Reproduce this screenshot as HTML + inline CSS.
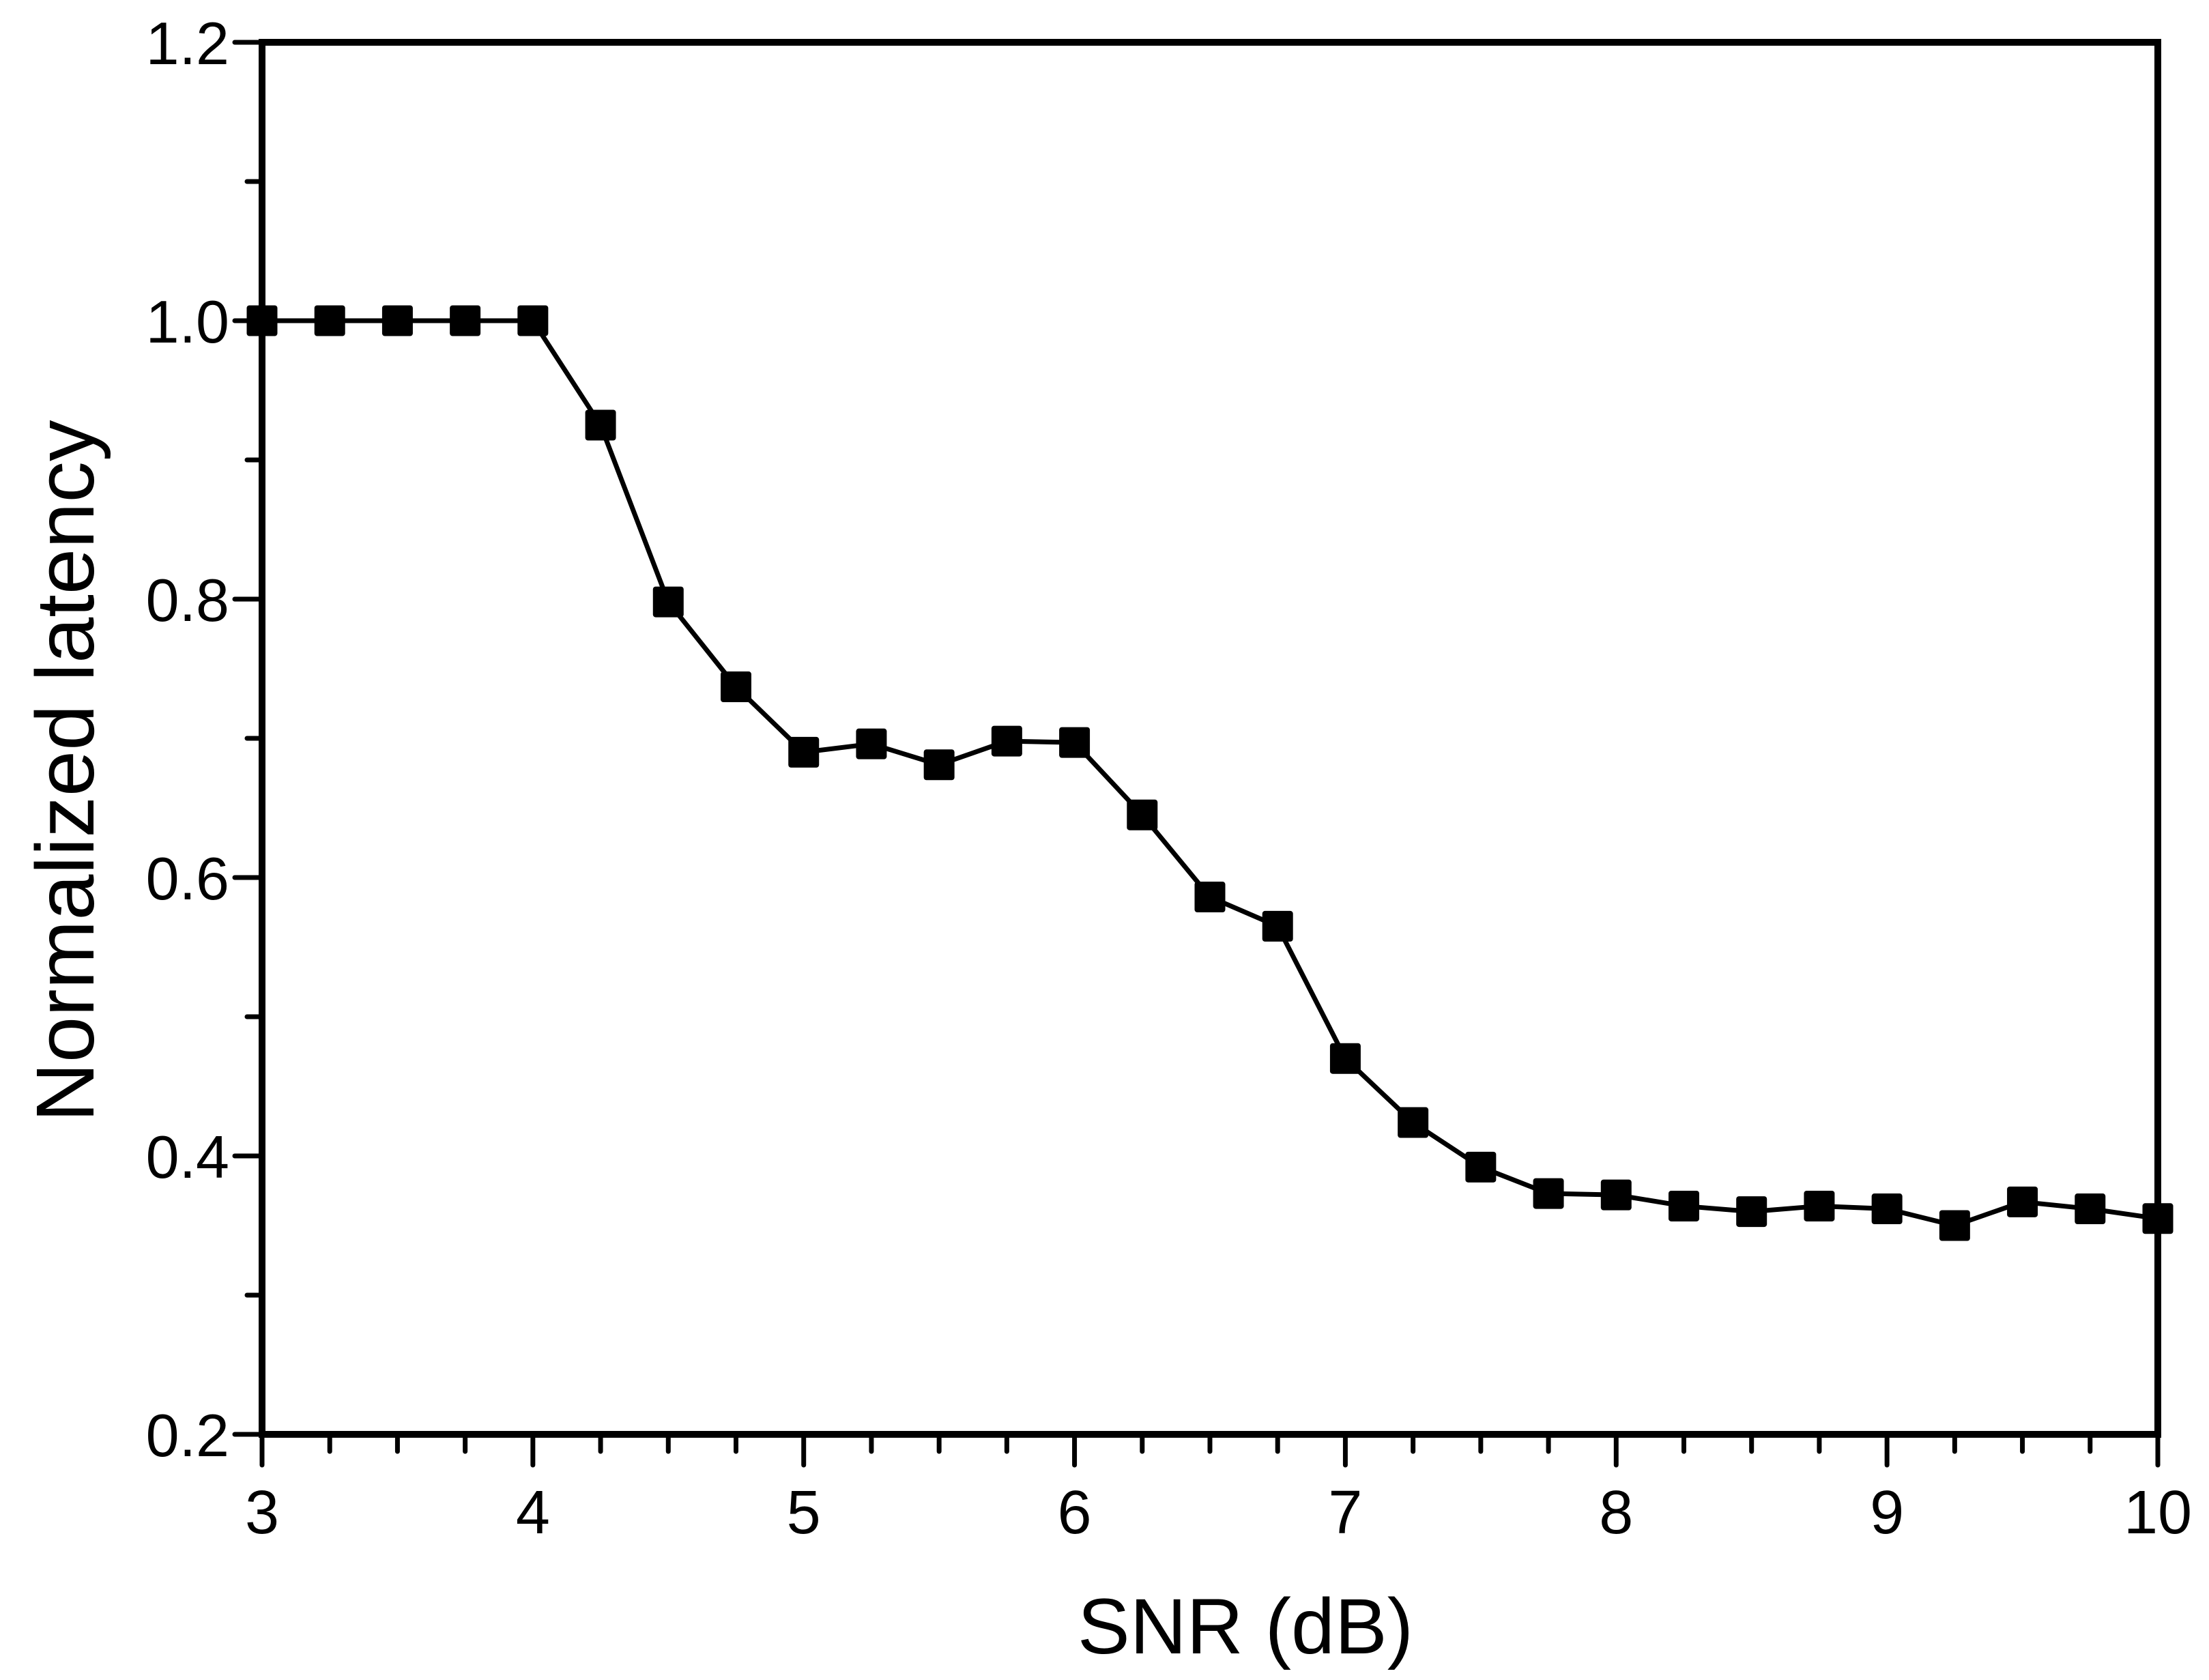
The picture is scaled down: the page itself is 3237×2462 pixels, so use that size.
<!DOCTYPE html>
<html><head><meta charset="utf-8"><style>
html,body{margin:0;padding:0;background:#fff;}
svg{display:block;}
text{font-family:"Liberation Sans",Arial,sans-serif;fill:#000;}
</style></head><body>
<svg id="chart" width="3237" height="2462" viewBox="0 0 3237 2462" xmlns="http://www.w3.org/2000/svg">
<g id="axes"></g>
<g id="series"></g>
<text x="1825" y="2423" font-size="115" text-anchor="middle">SNR (dB)</text>
<text transform="translate(137,1130) rotate(-90)" font-size="121" text-anchor="middle">Normalized latency</text>
</svg>
<script>
const snr = [3,3.25,3.5,3.75,4,4.25,4.5,4.75,5,5.25,5.5,5.75,6,6.25,6.5,6.75,7,7.25,7.5,7.75,8,8.25,8.5,8.75,9,9.25,9.5,9.75,10];
const latency = [1,1,1,1,1,0.925,0.798,0.737,0.690,0.696,0.681,0.698,0.697,0.645,0.586,0.565,0.470,0.424,0.392,0.373,0.372,0.364,0.360,0.364,0.362,0.350,0.367,0.362,0.355];
const xTickLabels = ["3","4","5","6","7","8","9","10"];
const yTickLabels = ["0.2","0.4","0.6","0.8","1.0","1.2"];

const NS="http://www.w3.org/2000/svg";
const L=384,R=3162,T=62,B=2102;
const xMin=3,xMax=10,yMin=0.2,yMax=1.2;
const xs=v=>L+(v-xMin)/(xMax-xMin)*(R-L);
const ys=v=>B-(v-yMin)/(yMax-yMin)*(B-T);
const axes=document.getElementById('axes');
const series=document.getElementById('series');
function mk(tag,attrs,parent){const e=document.createElementNS(NS,tag);for(const k in attrs)e.setAttribute(k,attrs[k]);parent.appendChild(e);return e;}

const frame=mk('rect',{x:L,y:T,width:R-L,height:B-T,fill:'none',stroke:'#000','stroke-width':10},axes);



// x ticks
for(let i=0;i<=28;i++){
  const v=xMin+i*0.25; if(v>xMax) break;
  const major=(i%4===0);
  const t=mk('line',{x1:xs(v),x2:xs(v),y1:B,y2:B+(major?45:25),stroke:'#000','stroke-width':7,'stroke-linecap':'round'},axes);
  
  
}
xTickLabels.forEach(s=>{
  const v=parseFloat(s);
  const t=mk('text',{x:xs(v),y:2247,'font-size':90,'text-anchor':'middle'},axes);
  t.textContent=s;
  
  
});
// y ticks
for(let i=0;i<=10;i++){
  const v=yMin+i*0.1;
  const major=(i%2===0);
  const t=mk('line',{x1:L,x2:L-(major?40:22),y1:ys(v),y2:ys(v),stroke:'#000','stroke-width':7,'stroke-linecap':'round'},axes);
  
  
}
yTickLabels.forEach(s=>{
  const v=parseFloat(s);
  const t=mk('text',{x:336,y:ys(v)+32,'font-size':88,'text-anchor':'end'},axes);
  t.textContent=s;
  
  
});

// line
const pts=snr.map((x,i)=>xs(x)+','+ys(latency[i])).join(' ');
const pl=mk('polyline',{points:pts,fill:'none',stroke:'#000','stroke-width':7,'stroke-linejoin':'round'},series);


// markers
const S=45;
snr.forEach((x,i)=>{
  const r=mk('rect',{x:xs(x)-S/2,y:ys(latency[i])-S/2,width:S,height:S,rx:4,fill:'#000'},series);
  
  
});
</script>
</body></html>
